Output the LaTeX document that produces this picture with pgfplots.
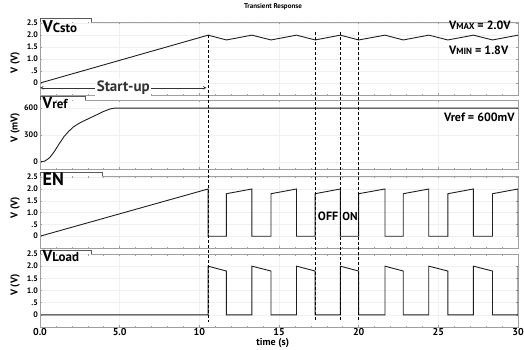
\documentclass[border=0pt]{standalone}
\usepackage{fontspec}
\setmainfont{PT Sans}
\usepackage{pgfplots}
\pgfplotsset{compat=1.18}
\begin{document}
\begin{tikzpicture}[font=\bfseries]
\useasboundingbox (0,0) rectangle (524pt,349pt);
\pgfplotsset{
  panel/.style={
    scale only axis, width=478pt, xmin=0, xmax=30, clip=false,
    axis line style={draw=none},
    grid=major, major grid style={gray!12, line width=0.4pt},
    xtick={0,5,...,30}, minor x tick num=4,
    tick style={gray!75, line width=0.5pt}, tick align=inside,
    major tick length=2pt, minor tick length=1.5pt,
    xticklabels={},
    tick label style={font=\bfseries\fontsize{8}{8}\selectfont},
    yticklabel style={inner sep=0pt, xshift=-2pt},
    ylabel style={font=\bfseries\fontsize{10}{10}\selectfont, anchor=center},
  },
  trace/.style={black!88, line width=0.9pt},
}
\newcommand{\tab}[1]{%
  \draw[gray!75, line width=0.6pt] ([xshift=#1]rel axis cs:0,1) -- (rel axis cs:1,1) -- (rel axis cs:1,0) -- (rel axis cs:0,0) -- (rel axis cs:0,1);
  \draw[gray!70!black, line width=0.6pt] (rel axis cs:0,1) -- ([yshift=4pt]rel axis cs:0,1) -- ([yshift=4pt,xshift=#1]rel axis cs:0,1) -- ([xshift=#1]rel axis cs:0,1);}

% Panel 1: VCsto
\begin{axis}[panel, at={(40pt,254pt)}, anchor=south west, height=73pt,
  ymin=-0.5, ymax=2.55, ytick={0,0.5,1,1.5,2,2.5}, yticklabels={0,.5,1.0,1.5,2.0,2.5},
  ylabel={V (V)}, ylabel style={at={(axis description cs:-0.052,0.44)}}]
\addplot[trace] coordinates {(0,0) (10.55,2.0) (11.7,1.8) (13.3,2.0) (14.5,1.8) (16.1,2.0) (17.27,1.8) (18.85,2.0) (20.0,1.8) (21.65,2.0) (22.8,1.8) (24.4,2.0) (25.6,1.8) (27.2,2.0) (28.4,1.8) (30,2.0)};
\tab{51pt}
\node[anchor=north west, inner sep=0pt, xshift=2.5pt, yshift=1.3pt] at (rel axis cs:0,1) {{\fontsize{17}{17}\selectfont V}{\fontsize{13}{13}\selectfont Csto}};
\node[anchor=east, inner sep=0pt] at (axis cs:29.55,2.4) {{\fontsize{12}{12}\selectfont V}{\fontsize{9}{9}\selectfont MAX}{\fontsize{12}{12}\selectfont{} = 2.0V}};
\node[anchor=east, inner sep=0pt] at (axis cs:29.4,1.36) {{\fontsize{12}{12}\selectfont V}{\fontsize{9}{9}\selectfont MIN}{\fontsize{12}{12}\selectfont{} = 1.8V}};
\draw[black!80, line width=0.6pt, <->, >=stealth] (axis cs:0,-0.2) -- (axis cs:10.45,-0.2) node[midway, fill=white, inner sep=1.5pt, font=\bfseries\fontsize{15}{15}\selectfont] {Start-up};
\coordinate (a1) at (axis cs:10.55,2.02);
\coordinate (a2) at (axis cs:17.27,2.12);
\coordinate (a3) at (axis cs:18.85,2.12);
\coordinate (a4) at (axis cs:20.0,2.12);
\end{axis}

% Panel 2: Vref
\begin{axis}[panel, at={(40pt,180pt)}, anchor=south west, height=69pt,
  ymin=-80, ymax=690, ytick={0,300,600}, yticklabels={0,300,600},
  ylabel={V (mV)}, ylabel style={at={(axis description cs:-0.052,0.6)}}]
\addplot[trace] coordinates {(0,0) (0.3,8) (0.6,45) (0.9,115) (1.2,200) (1.5,280) (1.8,340) (2.1,390) (2.5,435) (3.0,478) (3.5,520) (4.0,563) (4.4,590) (4.7,600) (30,600)};
\tab{45pt}
\node[anchor=north west, inner sep=0pt, xshift=2.5pt, yshift=2.7pt] at (rel axis cs:0,1) {{\fontsize{16}{16}\selectfont V}{\fontsize{13}{13}\selectfont ref}};
\node[anchor=east, inner sep=0pt] at (axis cs:29.8,492) {\fontsize{12}{12}\selectfont Vref = 600mV};
\end{axis}

% Panel 3: EN
\begin{axis}[panel, at={(40pt,101pt)}, anchor=south west, height=72pt,
  ymin=-0.5, ymax=2.55, ytick={0,0.5,1,1.5,2,2.5}, yticklabels={0,.5,1.0,1.5,2.0,2.5},
  ylabel={V (V)}, ylabel style={at={(axis description cs:-0.052,0.56)}}]
\addplot[trace] coordinates {(0,0) (10.55,2.0) (10.55,0) (11.7,0) (11.7,1.8) (13.3,2.0) (13.3,0) (14.5,0) (14.5,1.8) (16.1,2.0) (16.1,0) (17.27,0) (17.27,1.8) (18.85,2.0) (18.85,0) (20.0,0) (20.0,1.8) (21.65,2.0) (21.65,0) (22.8,0) (22.8,1.8) (24.4,2.0) (24.4,0) (25.6,0) (25.6,1.8) (27.2,2.0) (27.2,0) (28.4,0) (28.4,1.8) (30,2.0) (30,0)};
\tab{62pt}
\node[anchor=north west, inner sep=0pt, xshift=2.5pt, yshift=3.7pt] at (rel axis cs:0,1) {\fontsize{18}{18}\selectfont EN};
\node[inner sep=0pt] at (axis cs:18.08,0.85) {\fontsize{12}{12}\selectfont OFF};
\node[inner sep=0pt] at (axis cs:19.46,0.85) {\fontsize{11.5}{11.5}\selectfont ON};
\end{axis}

% Panel 4: VLoad
\begin{axis}[panel, at={(40pt,22pt)}, anchor=south west, height=73pt,
  ymin=-0.5, ymax=2.5, ytick={0,0.5,1,1.5,2,2.5}, yticklabels={0,.5,1.0,1.5,2.0,2.5},
  xticklabels={0.0,5.0,10,15,20,25,30},
  xticklabel style={inner sep=1pt, font=\bfseries\fontsize{10}{10}\selectfont},
  ylabel={V (V)}, ylabel style={at={(axis description cs:-0.052,0.575)}},
  xlabel={time (s)}, xlabel style={font=\bfseries\fontsize{10}{10}\selectfont, at={(axis description cs:0.487,0)}, anchor=center, yshift=-16.5pt}]
\addplot[trace] coordinates {(0,0) (10.55,0) (10.55,2.0) (11.7,1.8) (11.7,0) (13.3,0) (13.3,2.0) (14.5,1.8) (14.5,0) (16.1,0) (16.1,2.0) (17.27,1.8) (17.27,0) (18.85,0) (18.85,2.0) (20.0,1.8) (20.0,0) (21.65,0) (21.65,2.0) (22.8,1.8) (22.8,0) (24.4,0) (24.4,2.0) (25.6,1.8) (25.6,0) (27.2,0) (27.2,2.0) (28.4,1.8) (28.4,0) (30,0) (30,2.0)};
\tab{51pt}
\node[anchor=north west, inner sep=0pt, xshift=2.5pt, yshift=4pt] at (rel axis cs:0,1) {{\fontsize{16}{16}\selectfont V}{\fontsize{13}{13}\selectfont Load}};
\coordinate (b1) at (axis cs:10.55,-0.28);
\coordinate (b2) at (axis cs:17.27,-0.28);
\coordinate (b3) at (axis cs:18.85,-0.28);
\coordinate (b4) at (axis cs:20.0,-0.28);
\end{axis}

\foreach \i in {1,2,3,4} {
  \draw[black, line width=0.8pt, dash pattern=on 3pt off 2pt] (a\i) -- (b\i);
}
\node[font=\bfseries\fontsize{7}{7}\selectfont] at (273pt,342pt) {Transient Response};
\end{tikzpicture}
\end{document}
